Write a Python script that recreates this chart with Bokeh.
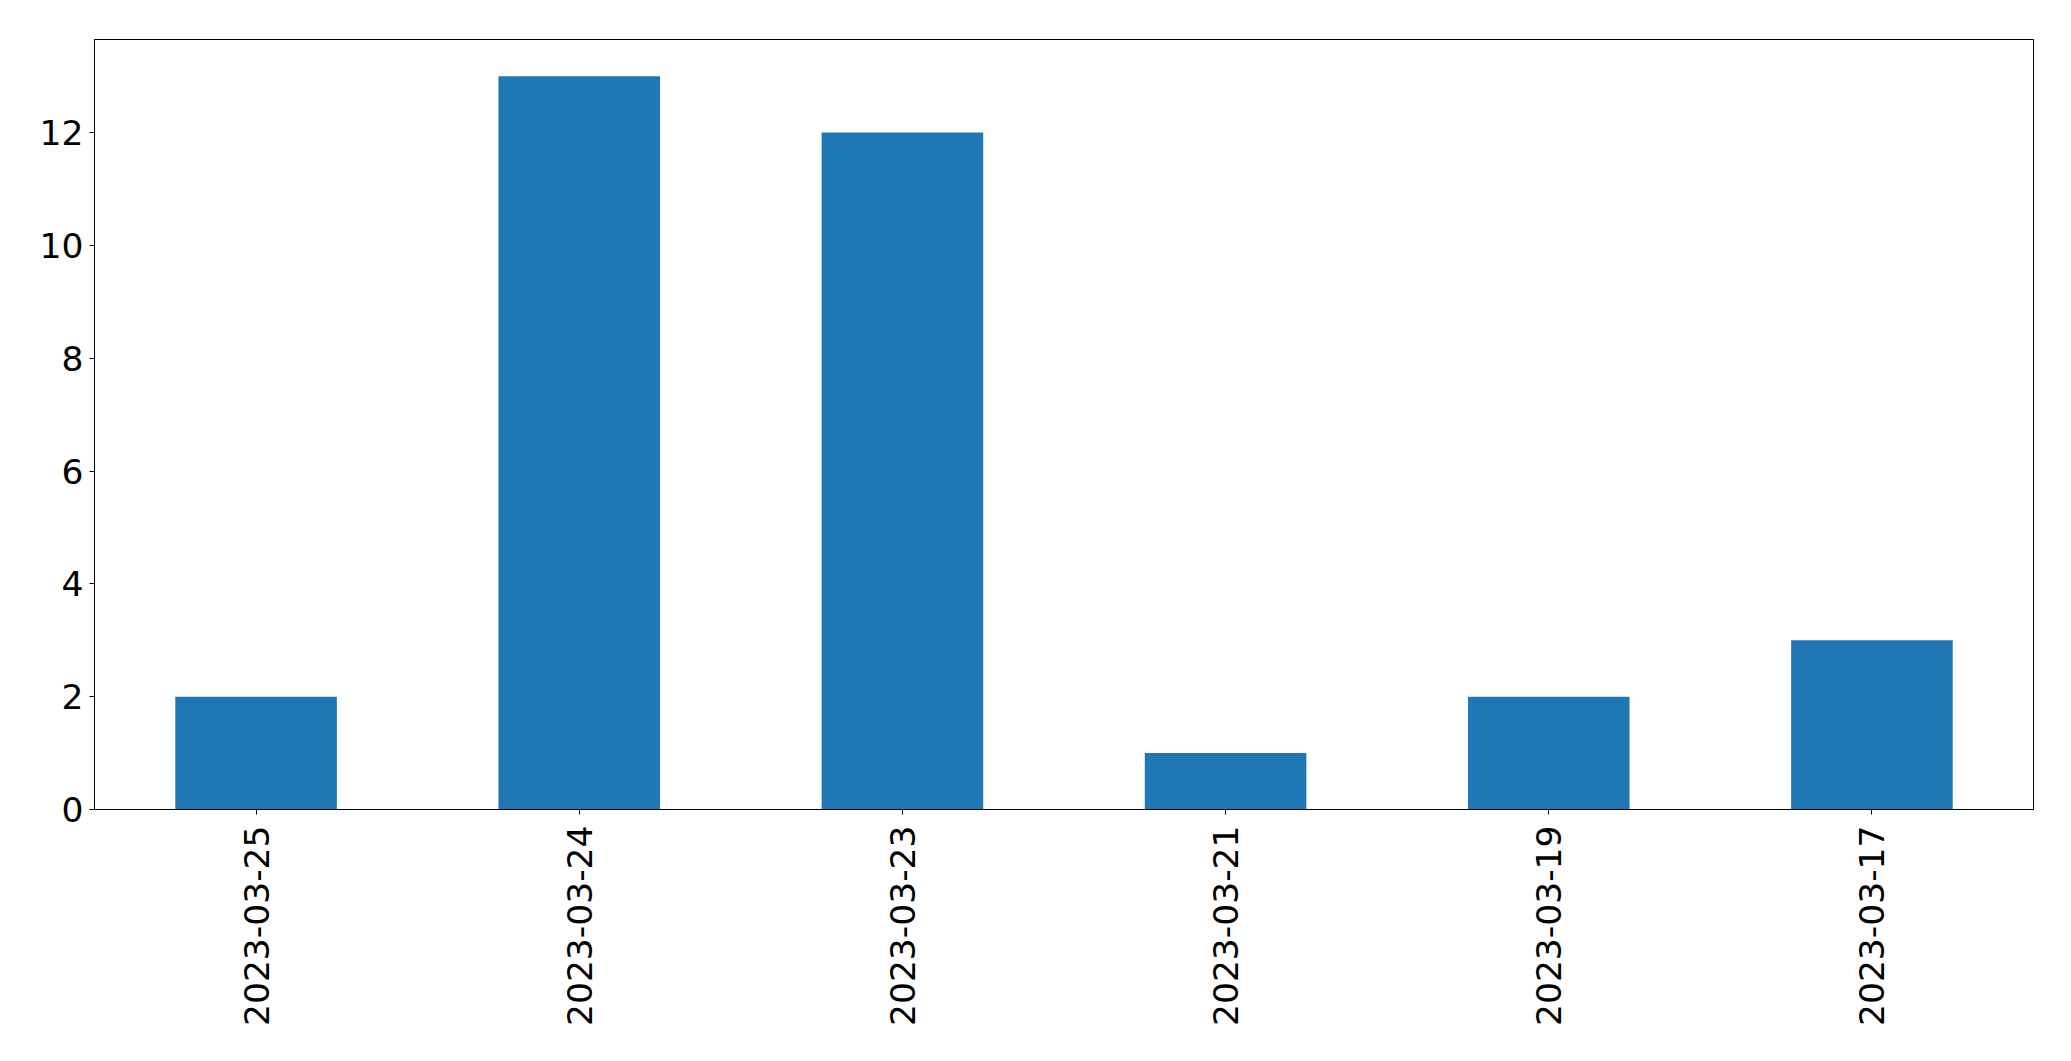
import math
from bokeh.plotting import figure
from bokeh.models import ColumnDataSource, FixedTicker, Range1d, FactorRange
from bokeh.embed import file_html
from bokeh.resources import INLINE

dates = ["2023-03-25", "2023-03-24", "2023-03-23", "2023-03-21", "2023-03-19", "2023-03-17"]
counts = [2, 13, 12, 1, 2, 3]
y_ticks = [0, 2, 4, 6, 8, 10, 12]

source = ColumnDataSource(data=dict(date=dates, count=counts))

p = figure(
    x_range=FactorRange(*dates, range_padding=0),
    y_range=Range1d(0, max(counts) * 1.05),
    width=2055, height=1045,
    output_backend="svg", toolbar_location=None,
    min_border_left=94, min_border_top=39, min_border_right=22, min_border_bottom=236,
)
p.vbar(x="date", top="count", width=0.5, source=source, fill_color="#1f77b4", line_color=None)

p.xgrid.visible = False
p.ygrid.visible = False
p.outline_line_color = "black"
p.outline_line_width = 1
p.background_fill_color = "white"
p.border_fill_color = "white"

p.yaxis.ticker = FixedTicker(ticks=y_ticks)
for ax in (p.xaxis[0], p.yaxis[0]):
    ax.major_label_text_font = "DejaVu Sans"
    ax.major_label_text_font_size = "34.5px"
    ax.major_label_text_color = "black"
    ax.axis_line_color = "black"
    ax.axis_line_width = 1
    ax.major_tick_line_color = "black"
    ax.major_tick_out = 5
    ax.major_tick_in = 0
    ax.minor_tick_line_color = None

p.xaxis.major_label_orientation = math.pi / 2
p.xaxis.major_label_standoff = 11
p.yaxis.major_label_standoff = 6

open("out.html", "w").write(file_html(p, INLINE))
